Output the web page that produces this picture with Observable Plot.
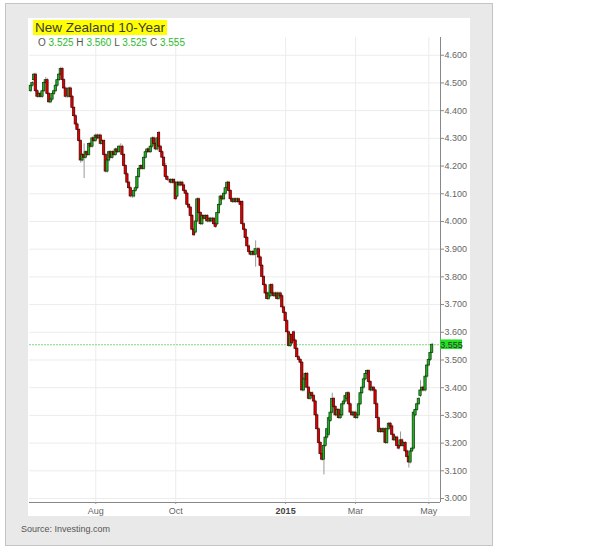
<!DOCTYPE html>
<html><head><meta charset="utf-8">
<script src="https://cdn.jsdelivr.net/npm/d3@7"></script>
<script src="https://cdn.jsdelivr.net/npm/@observablehq/plot@0.6"></script>
<style>
body{margin:0;background:#fff;font-family:Arial,"Liberation Sans",sans-serif;}
#wrap{position:relative;width:608px;height:560px;overflow:hidden;}
#frame{position:absolute;left:5px;top:3px;width:488px;height:543px;background:#e9e9e9;border:1px solid #c4c4c4;box-sizing:border-box;}
#panel{position:absolute;left:28px;top:18px;width:442px;height:498px;background:#fff;}
#title{position:absolute;left:33px;top:20px;height:15px;padding:0 2px;background:#ffff00;font-size:13.5px;line-height:15px;color:#3a3a3a;white-space:nowrap;}
#ohlc{position:absolute;left:38px;top:37px;font-size:10px;line-height:12px;color:#555;white-space:nowrap;}
#ohlc span{color:#2dbb2d;}
#source{position:absolute;left:21px;top:524px;font-size:9px;color:#555;white-space:nowrap;}
#chart{position:absolute;left:0;top:0;}
</style>
</head><body>
<div id="wrap">
  <div id="frame"></div>
  <div id="panel"></div>
  <div id="chart"></div>
  <div id="title">New Zealand 10-Year</div>
  <div id="ohlc"></div>
  <div id="source">Source: Investing.com</div>
</div>
<script>
// ---- data (daily candles, trading-day index 0..241) ----
const opens = [
 4.47,4.49,4.51,4.53,4.47,4.45,4.46,4.45,4.47,4.50,
 4.51,4.46,4.43,4.44,4.46,4.47,4.49,4.51,4.53,4.55,
 4.51,4.48,4.45,4.45,4.48,4.45,4.41,4.38,4.35,4.33,
 4.29,4.22,4.24,4.23,4.25,4.24,4.28,4.27,4.30,4.29,
 4.31,4.30,4.31,4.28,4.29,4.24,4.18,4.22,4.25,4.23,
 4.25,4.24,4.26,4.25,4.27,4.27,4.24,4.20,4.17,4.14,
 4.12,4.09,4.09,4.11,4.12,4.16,4.19,4.20,4.19,4.23,
 4.25,4.26,4.25,4.27,4.30,4.28,4.26,4.32,4.27,4.25,
 4.23,4.20,4.16,4.15,4.15,4.14,4.15,4.14,4.09,4.14,
 4.13,4.14,4.13,4.11,4.10,4.06,4.05,4.02,3.97,3.96,
 4.00,4.08,4.03,3.99,4.02,4.01,4.02,4.00,4.01,4.00,
 4.01,3.99,3.99,4.03,4.06,4.09,4.08,4.10,4.12,4.14,
 4.11,4.08,4.07,4.08,4.07,4.08,4.07,4.07,3.99,3.97,
 3.94,3.91,3.89,3.88,3.89,3.88,3.90,3.90,3.87,3.84,
 3.80,3.77,3.74,3.72,3.73,3.77,3.74,3.73,3.74,3.72,
 3.74,3.73,3.69,3.67,3.64,3.60,3.55,3.59,3.60,3.57,
 3.54,3.51,3.50,3.49,3.39,3.43,3.45,3.40,3.36,3.38,
 3.37,3.35,3.30,3.25,3.20,3.16,3.14,3.19,3.22,3.23,
 3.28,3.31,3.36,3.33,3.30,3.32,3.29,3.30,3.34,3.35,
 3.36,3.38,3.34,3.31,3.30,3.31,3.29,3.30,3.34,3.38,
 3.40,3.43,3.45,3.46,3.42,3.39,3.40,3.39,3.34,3.29,
 3.24,3.25,3.24,3.25,3.20,3.25,3.27,3.26,3.23,3.21,
 3.22,3.19,3.19,3.21,3.19,3.20,3.17,3.15,3.13,3.17,
 3.18,3.30,3.32,3.34,3.37,3.39,3.40,3.39,3.44,3.48,
 3.50,3.525];
const closes = [
 4.49,4.50,4.53,4.47,4.45,4.46,4.45,4.47,4.50,4.51,
 4.46,4.43,4.44,4.46,4.47,4.49,4.51,4.53,4.55,4.51,
 4.48,4.45,4.45,4.48,4.45,4.41,4.38,4.35,4.33,4.29,
 4.22,4.24,4.23,4.25,4.24,4.28,4.27,4.30,4.29,4.31,
 4.30,4.31,4.28,4.29,4.24,4.18,4.22,4.25,4.23,4.25,
 4.24,4.26,4.25,4.27,4.27,4.24,4.20,4.17,4.14,4.12,
 4.09,4.09,4.11,4.12,4.16,4.19,4.20,4.19,4.23,4.25,
 4.26,4.25,4.27,4.30,4.28,4.26,4.30,4.27,4.25,4.23,
 4.20,4.16,4.15,4.15,4.14,4.15,4.14,4.08,4.14,4.13,
 4.14,4.13,4.11,4.10,4.06,4.05,4.02,3.97,3.95,4.00,
 4.08,4.03,3.99,4.02,4.01,4.02,4.00,4.01,4.00,4.01,
 3.99,3.98,4.03,4.06,4.09,4.08,4.10,4.12,4.14,4.11,
 4.08,4.07,4.08,4.07,4.08,4.07,4.06,3.99,3.97,3.94,
 3.91,3.89,3.88,3.89,3.88,3.90,3.90,3.87,3.84,3.80,
 3.77,3.74,3.72,3.74,3.77,3.74,3.73,3.74,3.72,3.74,
 3.73,3.69,3.67,3.64,3.60,3.55,3.59,3.56,3.57,3.54,
 3.51,3.50,3.49,3.39,3.43,3.45,3.40,3.36,3.38,3.37,
 3.35,3.30,3.25,3.20,3.16,3.14,3.19,3.22,3.25,3.29,
 3.31,3.36,3.33,3.30,3.32,3.29,3.30,3.34,3.35,3.37,
 3.38,3.34,3.31,3.30,3.31,3.29,3.30,3.34,3.38,3.40,
 3.43,3.45,3.46,3.42,3.39,3.40,3.39,3.34,3.29,3.24,
 3.25,3.24,3.25,3.20,3.25,3.27,3.26,3.23,3.21,3.22,
 3.19,3.18,3.21,3.19,3.20,3.17,3.15,3.13,3.17,3.18,
 3.31,3.32,3.34,3.36,3.39,3.40,3.39,3.44,3.48,3.50,
 3.525,3.555];
const highs = [
 4.495,4.505,4.535,4.535,4.475,4.465,4.465,4.475,4.505,4.52,
 4.515,4.465,4.445,4.465,4.475,4.495,4.515,4.535,4.557,4.555,
 4.515,4.485,4.455,4.485,4.485,4.455,4.415,4.385,4.355,4.335,
 4.295,4.245,4.28,4.255,4.255,4.285,4.285,4.305,4.305,4.315,
 4.315,4.315,4.315,4.295,4.295,4.245,4.225,4.255,4.255,4.255,
 4.255,4.265,4.265,4.275,4.28,4.275,4.245,4.205,4.175,4.145,
 4.125,4.095,4.115,4.125,4.165,4.195,4.205,4.205,4.235,4.255,
 4.265,4.265,4.275,4.305,4.305,4.285,4.305,4.325,4.275,4.255,
 4.235,4.21,4.165,4.155,4.155,4.155,4.155,4.145,4.145,4.145,
 4.145,4.145,4.135,4.115,4.105,4.065,4.055,4.025,3.975,4.005,
 4.085,4.085,4.035,4.025,4.025,4.025,4.025,4.015,4.015,4.015,
 4.015,3.995,4.035,4.065,4.095,4.095,4.105,4.125,4.145,4.145,
 4.115,4.085,4.085,4.085,4.085,4.085,4.075,4.075,3.995,3.975,
 3.945,3.915,3.895,3.895,3.895,3.93,3.905,3.905,3.875,3.845,
 3.805,3.775,3.745,3.745,3.775,3.775,3.745,3.745,3.745,3.745,
 3.745,3.735,3.695,3.675,3.645,3.605,3.595,3.595,3.605,3.575,
 3.545,3.515,3.505,3.495,3.435,3.455,3.455,3.405,3.385,3.385,
 3.375,3.355,3.305,3.255,3.205,3.165,3.195,3.225,3.255,3.295,
 3.315,3.38,3.365,3.335,3.325,3.325,3.305,3.345,3.355,3.375,
 3.385,3.385,3.345,3.315,3.315,3.315,3.305,3.345,3.385,3.405,
 3.435,3.455,3.465,3.465,3.425,3.405,3.405,3.395,3.345,3.295,
 3.255,3.255,3.255,3.255,3.255,3.275,3.275,3.265,3.235,3.225,
 3.225,3.195,3.24,3.215,3.205,3.205,3.175,3.155,3.175,3.185,
 3.315,3.325,3.345,3.365,3.425,3.405,3.405,3.445,3.485,3.505,
 3.53,3.56];
const lows = [
 4.465,4.485,4.505,4.465,4.445,4.445,4.445,4.445,4.465,4.495,
 4.455,4.425,4.425,4.435,4.455,4.465,4.485,4.505,4.525,4.505,
 4.475,4.445,4.445,4.445,4.445,4.405,4.375,4.345,4.325,4.285,
 4.21,4.215,4.155,4.225,4.235,4.235,4.265,4.265,4.285,4.285,
 4.295,4.295,4.275,4.275,4.235,4.175,4.175,4.215,4.225,4.225,
 4.235,4.235,4.245,4.245,4.265,4.235,4.195,4.165,4.135,4.115,
 4.085,4.083,4.085,4.105,4.115,4.155,4.185,4.185,4.185,4.225,
 4.245,4.245,4.245,4.265,4.275,4.255,4.255,4.265,4.245,4.225,
 4.195,4.155,4.145,4.145,4.135,4.135,4.135,4.075,4.085,4.125,
 4.125,4.125,4.105,4.095,4.055,4.045,4.015,3.965,3.945,3.955,
 3.995,4.025,3.985,3.985,4.005,4.005,3.995,3.995,3.995,3.995,
 3.985,3.975,3.985,4.025,4.055,4.075,4.075,4.095,4.115,4.105,
 4.075,4.065,4.065,4.065,4.065,4.065,4.055,3.985,3.965,3.935,
 3.905,3.885,3.875,3.875,3.875,3.835,3.895,3.865,3.835,3.795,
 3.765,3.735,3.715,3.715,3.725,3.735,3.725,3.725,3.715,3.715,
 3.725,3.685,3.665,3.635,3.595,3.545,3.545,3.555,3.565,3.535,
 3.505,3.495,3.485,3.385,3.385,3.425,3.395,3.355,3.355,3.365,
 3.345,3.295,3.245,3.195,3.155,3.135,3.085,3.185,3.215,3.225,
 3.275,3.305,3.325,3.295,3.295,3.285,3.285,3.295,3.335,3.345,
 3.355,3.335,3.305,3.295,3.295,3.285,3.285,3.295,3.335,3.375,
 3.395,3.425,3.445,3.415,3.385,3.385,3.385,3.335,3.285,3.235,
 3.235,3.235,3.235,3.195,3.195,3.245,3.255,3.225,3.205,3.205,
 3.185,3.175,3.185,3.185,3.185,3.165,3.145,3.11,3.125,3.165,
 3.175,3.295,3.315,3.335,3.365,3.385,3.385,3.385,3.435,3.475,
 3.495,3.525];

// x-axis month labels at trading-day index
const monthTickIndex = [39, 87, 153, 195, 239];
const monthTickLabels = ["Aug", "Oct", "2015", "Mar", "May"];
const yTicks = [3.0, 3.1, 3.2, 3.3, 3.4, 3.5, 3.6, 3.7, 3.8, 3.9, 4.0, 4.1, 4.2, 4.3, 4.4, 4.5, 4.6];
const lastQuote = {O: "3.525", H: "3.560", L: "3.525", C: "3.555"};

// ---- build ----
if (![closes, highs, lows].every(a => a.length === opens.length)) console.error("length mismatch");
const candles = opens.map((o, i) => ({i, open: o, close: closes[i], high: highs[i], low: lows[i]}));
const last = candles[candles.length - 1];
const xDomain = [-0.8, 246];
const yDomain = [2.9856, 4.664];
const labelOf = new Map(monthTickIndex.map((t, k) => [t, monthTickLabels[k]]));
const boldTicks = monthTickIndex.filter(t => /^\d{4}$/.test(labelOf.get(t)));
const normalTicks = monthTickIndex.filter(t => !boldTicks.includes(t));

document.getElementById("ohlc").innerHTML =
  Object.entries(lastQuote).map(([k, v]) => `${k} <span>${v}</span>`).join(" ");

const up = d => d.close >= d.open;
const plot = Plot.plot({
  width: 608, height: 560,
  marginLeft: 29, marginRight: 168, marginTop: 37, marginBottom: 58,
  style: {background: "transparent", fontFamily: "Arial, 'Liberation Sans', sans-serif", fontSize: "9px", color: "#666", overflow: "visible"},
  x: {type: "linear", domain: xDomain, axis: null, label: null},
  y: {domain: yDomain, axis: null, label: null},
  marks: [
    Plot.gridY(yTicks, {stroke: "#ececec", strokeOpacity: 1}),
    Plot.gridX(monthTickIndex, {stroke: "#ececec", strokeOpacity: 1}),
    Plot.ruleY([last.close], {stroke: "#7fd87f", strokeDasharray: "2,1"}),
    Plot.ruleX(candles, {x: "i", y1: "low", y2: "high", stroke: "#999", strokeWidth: 1}),
    Plot.rect(candles, {
      x1: d => d.i - 0.7, x2: d => d.i + 0.7,
      y1: "open", y2: "close",
      fill: d => up(d) ? "#22ad22" : "#dd0000",
      stroke: d => up(d) ? "#0b3a0b" : "#4a0000",
      strokeWidth: 0.7
    }),
    Plot.ruleY([yDomain[0]], {stroke: "#888"}),
    Plot.ruleX([xDomain[1]], {stroke: "#888"}),
    Plot.axisY({anchor: "right", label: null, ticks: yTicks, tickFormat: d3.format(".3f"), tickSize: 3, tickPadding: 1, stroke: "#888", fill: "#666", fontSize: 9}),
    Plot.axisX({anchor: "bottom", label: null, ticks: normalTicks, tickFormat: t => labelOf.get(t), tickSize: 2, tickPadding: 3, stroke: "#999", fill: "#666", fontSize: 9}),
    Plot.axisX({anchor: "bottom", label: null, ticks: boldTicks, tickFormat: t => labelOf.get(t), tickSize: 2, tickPadding: 3, stroke: "#999", fill: "#444", fontSize: 9, fontWeight: "bold"}),
    Plot.rect([last.close], {x1: () => xDomain[1], x2: () => xDomain[1], y1: d => d, y2: d => d,
      insetRight: -22, insetTop: -4.8, insetBottom: -4.8, fill: "#22e022"}),
    Plot.text([last.close], {x: () => xDomain[1], y: d => d, text: d => d3.format(".3f")(d), dx: 11, textAnchor: "middle", fill: "#333", fontSize: 9})
  ]
});
document.getElementById("chart").appendChild(plot);
</script>
</body></html>
